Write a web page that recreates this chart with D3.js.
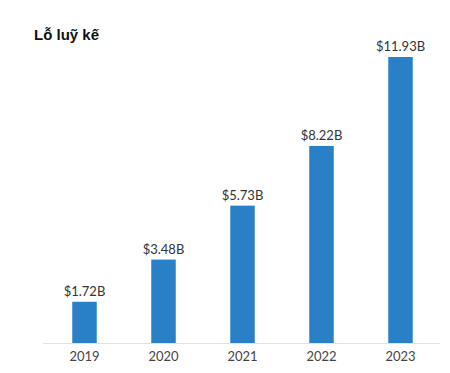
<!DOCTYPE html>
<html lang="vi">
<head>
<meta charset="utf-8">
<title>Lỗ luỹ kế</title>
<script src="https://d3js.org/d3.v7.min.js"></script>
<style>
  body { margin: 0; background: #fff; }
  .tick text { font-family: Lato, sans-serif; font-size: 13px; fill: #444; }
</style>
</head>
<body>
<div id="chart"></div>
<script>
const years = ['2019', '2020', '2021', '2022', '2023'];
const losses = [1.72, 3.48, 5.73, 8.22, 11.93];
const labels = ['$1.72B', '$3.48B', '$5.73B', '$8.22B', '$11.93B'];

const width = 450, height = 373;
const margin = {top: 57, right: 10, bottom: 30, left: 45};

const svg = d3.select('#chart').append('svg')
    .attr('width', width)
    .attr('height', height);

const x = d3.scaleBand()
    .domain(years)
    .range([45, 440])
    .paddingInner(0.69)
    .paddingOuter(0.345);

const y = d3.scaleLinear()
    .domain([0, d3.max(losses)])
    .range([height - margin.bottom, margin.top]);

const data = years.map((yr, i) => ({year: yr, value: losses[i], label: labels[i]}));

// axis line
svg.append('line')
    .attr('x1', 43).attr('x2', 440)
    .attr('y1', y(0) + 0.5).attr('y2', y(0) + 0.5)
    .attr('stroke', '#e2e2e2');

svg.append('g')
  .selectAll('rect')
  .data(data)
  .join('rect')
    .attr('x', d => x(d.year))
    .attr('y', d => y(d.value))
    .attr('width', x.bandwidth())
    .attr('height', d => y(0) - y(d.value))
    .attr('fill', '#2a80c6');

svg.append('g')
  .selectAll('text')
  .data(data)
  .join('text')
    .attr('x', d => x(d.year) + x.bandwidth() / 2)
    .attr('y', d => y(d.value) - 6)
    .attr('text-anchor', 'middle')
    .style('font-family', 'Lato, sans-serif')
    .style('font-size', '13px')
    .style('fill', '#333')
    .text(d => d.label);

const xAxis = d3.axisBottom(x).tickSize(0).tickPadding(9);
svg.append('g')
    .attr('transform', `translate(0,${y(0)})`)
    .call(xAxis)
    .call(g => g.select('.domain').remove());

svg.append('text')
    .attr('x', 34)
    .attr('y', 40)
    .style('font-family', '"Liberation Sans", Arial, sans-serif')
    .style('font-weight', 'bold')
    .style('font-size', '15px')
    .style('fill', '#111')
    .text('Lỗ luỹ kế');
</script>
</body>
</html>
